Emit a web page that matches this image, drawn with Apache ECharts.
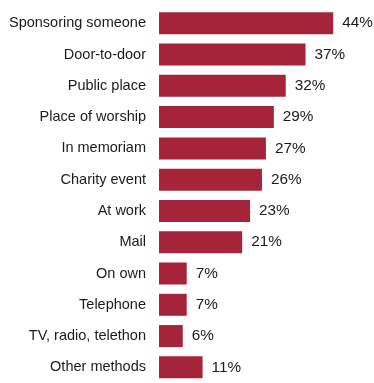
<!DOCTYPE html>
<html>
<head>
<meta charset="utf-8">
<script src="https://cdn.jsdelivr.net/npm/echarts@6/dist/echarts.min.js"></script>
<style>html,body{margin:0;padding:0;background:#fff;}#c{width:374px;height:383px;}</style>
</head>
<body>
<div id="c"></div>
<script>
const categories = ["Sponsoring someone","Door-to-door","Public place","Place of worship","In memoriam","Charity event","At work","Mail","On own","Telephone","TV, radio, telethon","Other methods"];
const values = [44,37,32,29,27,26,23,21,7,7,6,11];

const chart = echarts.init(document.getElementById('c'), null, {renderer:'canvas'});
chart.setOption({
  animation:false,
  grid:{left:159,right:17,top:7.6,bottom:-5.6,containLabel:false},
  xAxis:{type:'value',min:0,max:50,show:false},
  yAxis:{type:'category',data:categories,inverse:true,
    axisLine:{show:false},axisTick:{show:false},splitLine:{show:false},
    axisLabel:{margin:13,color:'#1a1a1a',fontSize:14.5,fontFamily:'Liberation Sans, Arial, sans-serif'}},
  series:[{type:'bar',data:values,barWidth:22,
    itemStyle:{color:'#A5243A'},
    label:{show:true,position:'right',distance:9,formatter:'{c}%',color:'#1a1a1a',fontSize:15.3,fontFamily:'Liberation Sans, Arial, sans-serif'}}]
});
</script>
</body>
</html>
